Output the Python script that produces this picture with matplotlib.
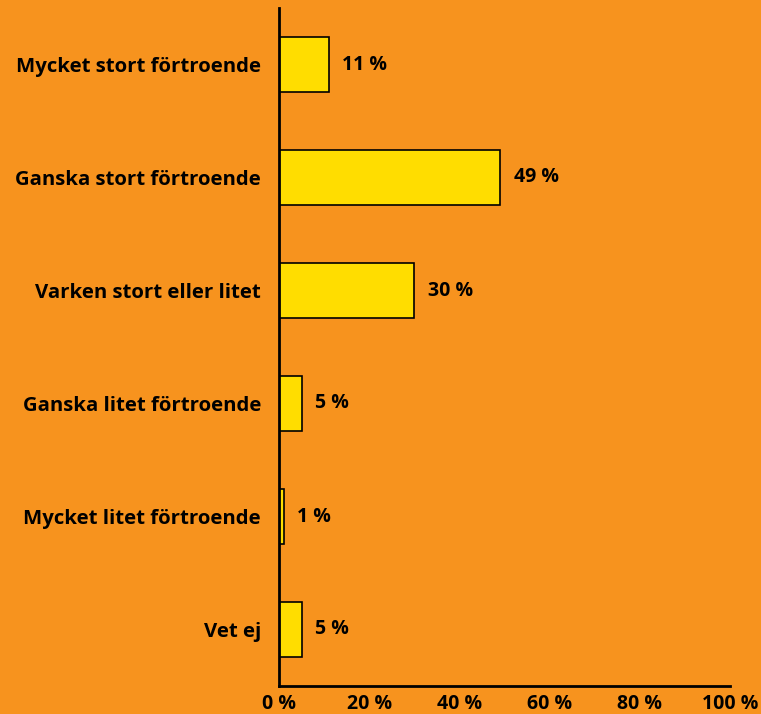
import matplotlib
matplotlib.use("Agg")
from matplotlib import pyplot as plt
import numpy as np

categories = ["Mycket stort förtroende", "Ganska stort förtroende", "Varken stort eller litet",
              "Ganska litet förtroende", "Mycket litet förtroende", "Vet ej"]
values = [11, 49, 30, 5, 1, 5]
xticks = [0, 20, 40, 60, 80, 100]

bg = "#F7931E"
bar_col = "#FFDD00"

plt.rcParams['font.family'] = ['Open Sans', 'DejaVu Sans']

fig = plt.figure(figsize=(7.61, 7.14), dpi=100, facecolor=bg)
ax = fig.add_axes([279/761, 1-686/714, 451/761, 678/714])
ax.set_facecolor(bg)

y = np.arange(len(categories))
ax.barh(y, values, height=0.48, color=bar_col, edgecolor="black", linewidth=1.2)

for yi, v in zip(y, values):
    ax.annotate(f"{v} %", (v, yi), xytext=(10, 0), textcoords="offset points",
                va="center", ha="left", fontsize=14, fontweight="bold")

ax.set_ylim(len(categories) - 0.5, -0.5)
ax.set_xlim(0, 100)
ax.set_yticks(y)
ax.set_yticklabels(categories, fontsize=14.7, fontweight="bold")
ax.set_xticks(xticks)
ax.set_xticklabels([f"{t} %" for t in xticks], fontsize=14, fontweight="bold")
ax.tick_params(length=0)
ax.tick_params(axis="y", pad=13)
ax.tick_params(axis="x", pad=6)

for s in ["top", "right"]:
    ax.spines[s].set_visible(False)
for s in ["left", "bottom"]:
    ax.spines[s].set_linewidth(2)

plt.savefig("out.png", dpi=100, facecolor=bg)
